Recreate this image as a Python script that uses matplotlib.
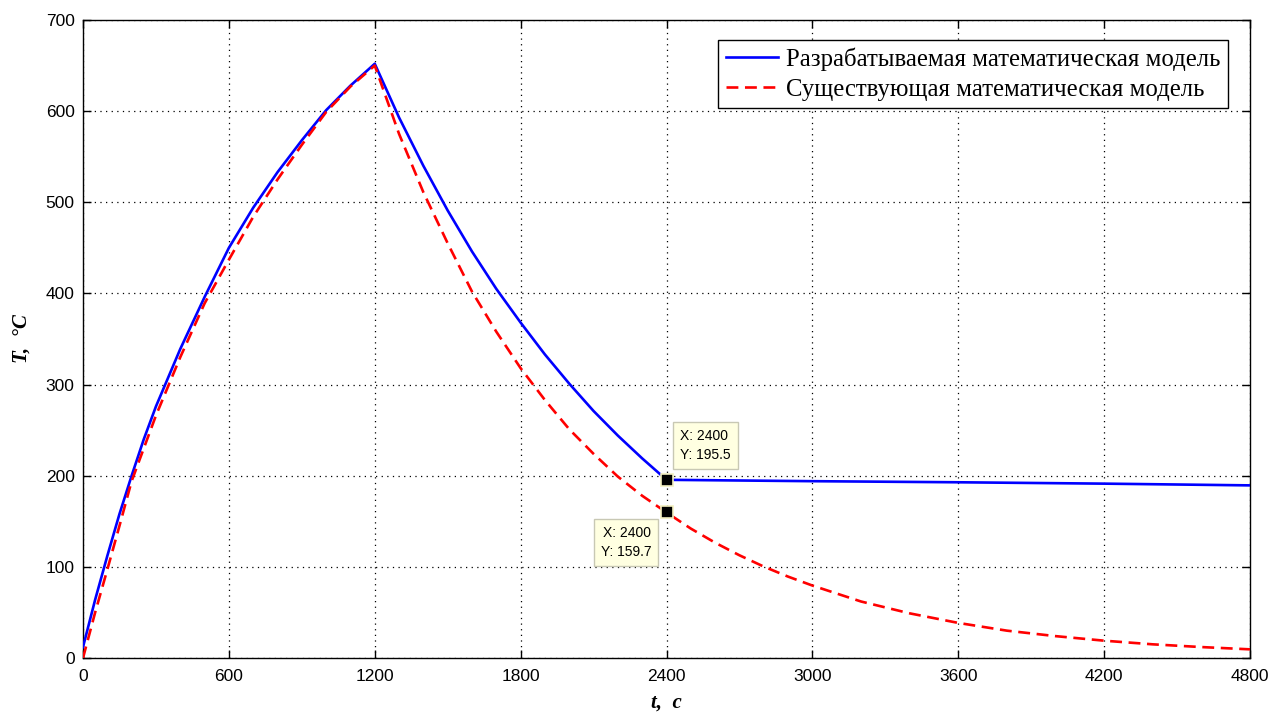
import matplotlib
matplotlib.use("Agg")
import matplotlib.pyplot as plt

# Developed model (blue, solid)
t_dev = [0, 50, 100, 150, 200, 250, 300, 400, 500, 600, 700, 800, 900, 1000, 1100, 1200,
         1300, 1400, 1500, 1600, 1700, 1800, 1900, 2000, 2100, 2200, 2300, 2400,
         3000, 3600, 4200, 4800]
T_dev = [12, 64, 112, 158, 200, 240, 276, 339, 396, 450, 494, 533, 568, 601, 628, 652,
         593, 540, 491, 446, 405, 368, 333, 301, 271, 244, 219, 195.5,
         194.0, 192.8, 191.3, 189.4]

# Existing model (red, dashed)
t_ex = [0, 50, 100, 150, 200, 300, 400, 500, 600, 700, 800, 900, 1000, 1100, 1200,
        1300, 1400, 1500, 1600, 1700, 1800, 1900, 2000, 2100, 2200, 2300, 2400,
        2500, 2600, 2700, 2800, 2900, 3000, 3200, 3400, 3600, 3800, 4000, 4200,
        4400, 4600, 4800]
T_ex = [0, 50, 97, 145, 194, 266, 330, 389, 437, 484, 525, 563, 599, 627, 650,
        575, 511, 455, 402, 358, 318, 283, 251, 224, 199, 178, 159.7,
        142, 126.5, 112.7, 100.3, 89.3, 79.5, 62, 49, 38.5, 30, 24, 19,
        15, 12, 9.5]

labels = ["Разрабатываемая математическая модель",
          "Существующая математическая модель"]

tip_x = 2400
tip_dev = 195.5
tip_ex = 159.7

xticks = [0, 600, 1200, 1800, 2400, 3000, 3600, 4200, 4800]
yticks = [0, 100, 200, 300, 400, 500, 600, 700]

fig = plt.figure(figsize=(12.72, 7.13), dpi=100)
ax = fig.add_axes([83/1272, 55/713, (1250-83)/1272, (658-20)/713])

ax.plot(t_dev, T_dev, color="#0000ff", lw=1.9, label=labels[0], zorder=3)
ax.plot(t_ex, T_ex, color="#ff0000", lw=1.9, linestyle=(0, (4.5, 2.5)),
        label=labels[1], zorder=3)

ax.set_xlim(0, 4800)
ax.set_ylim(0, 700)
ax.set_xticks(xticks)
ax.set_yticks(yticks)
ax.tick_params(direction="in", top=True, right=True, length=6, width=1,
               labelsize=12.5)
ax.tick_params(axis="x", pad=8)
ax.tick_params(axis="y", pad=6)
for lbl in ax.get_xticklabels() + ax.get_yticklabels():
    lbl.set_fontfamily("Liberation Sans")
ax.grid(True, color="black", linestyle=(0, (1, 3.5)), linewidth=0.9)
for s in ax.spines.values():
    s.set_linewidth(1.0)

ax.set_xlabel("t,  c", fontfamily="Liberation Serif", fontweight="bold",
              fontstyle="italic", fontsize=15, labelpad=6)
ax.set_ylabel("T,  °C", fontfamily="Liberation Serif", fontweight="bold",
              fontstyle="italic", fontsize=15, labelpad=10)

leg = ax.legend(loc="upper right", bbox_to_anchor=(1 - 22/1167, 1 - 20/638),
                borderaxespad=0, fancybox=False, framealpha=1,
                edgecolor="black", handlelength=2.1, handletextpad=0.35,
                borderpad=0.3, labelspacing=0.3,
                prop={"family": "Liberation Serif", "size": 17.8})
leg.get_frame().set_linewidth(1.0)

# data tips
ax.plot([tip_x], [tip_dev], marker="s", markersize=8, markerfacecolor="black",
        markeredgecolor="#f3f0c0", markeredgewidth=1.2, zorder=5, linestyle="none")
ax.plot([tip_x], [tip_ex], marker="s", markersize=8, markerfacecolor="black",
        markeredgecolor="#f3f0c0", markeredgewidth=1.2, zorder=5, linestyle="none")

bbox = dict(boxstyle="square,pad=0.5", facecolor="#ffffe1", edgecolor="#c8c8b4",
            linewidth=1.0)
ax.annotate(f"X: {tip_x}\nY: {tip_dev}", xy=(tip_x, tip_dev),
            xytext=(10, 13), textcoords="offset points", ha="left", va="bottom",
            fontsize=10, fontfamily="Liberation Sans", linespacing=1.45,
            bbox=bbox, zorder=6)
ax.annotate(f"X: {tip_x}\nY: {tip_ex}", xy=(tip_x, tip_ex),
            xytext=(-11, -10), textcoords="offset points", ha="right", va="top",
            fontsize=10, fontfamily="Liberation Sans", linespacing=1.45,
            bbox=bbox, zorder=6)

fig.savefig("out.png", dpi=100)
